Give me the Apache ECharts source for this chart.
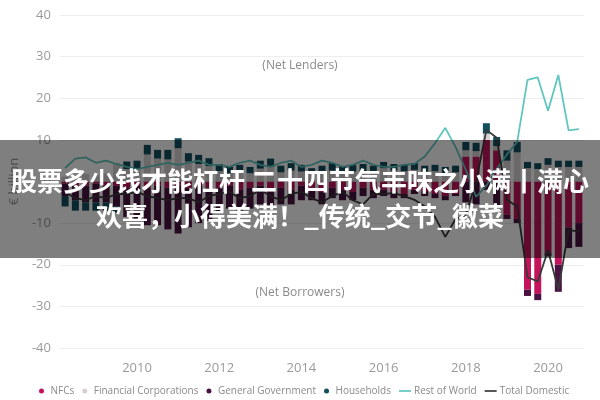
<!DOCTYPE html>
<html>
<head>
<meta charset="utf-8">
<script src="https://cdn.jsdelivr.net/npm/echarts@6/dist/echarts.min.js"></script>
<style>
html,body{margin:0;padding:0;background:#fff;}
#chart{width:600px;height:400px;}
</style>
</head>
<body>
<div id="chart"></div>
<script>
// Quarters 2008Q2 .. 2020Q4
const years = [2008,2009,2010,2011,2012,2013,2014,2015,2016,2017,2018,2019,2020];
const quarters = [];
years.forEach(y => { for (let q = 1; q <= 4; q++) { if (y === 2008 && q === 1) continue; quarters.push(y + 'Q' + q); } });

const nfcs = [
  -0.5, -1, -1,
  -0.5, -1, -1, -1.5,
  -1, -1.5, -1, -1.5,
  -1, -1.5, -1, -1.5,
  -1.5, -1, -2, -1.5,
  -1, -2, -1.5, -2,
  -1, -1.5, -2.5, -1.5,
  -2, -2.5, -1.5, -2,
  -2, -2.5, -3, -2,
  -2.5, -3, -3.5, -3,
  6, 6, 10, 7.5,
  -8, -9, -26, -27,
  -17, -20, -11, -10
];
const financialCorps = [
  1.2, 1.5, 1.8,
  1.5, 2, 4.5, 3,
  3, 6.5, 5.5, 5.3,
  8, 4.8, 4.2, 3.7,
  2.5, 2, 2.2, 2,
  3.1, 3.5, 2.2, 2.6,
  2.4, 1.8, 2.2, 2.6,
  2.1, 2.4, 2.5, 2.2,
  3.2, 2.6, 2.5, 2.8,
  2.4, 2.5, 2, 2.2,
  1.5, 1.3, 1.5, 1,
  5, 7, 3.2, 3,
  4, 3.5, 3.5, 3.5
];
const generalGov = [
  -3, -3.5, -4,
  -4.5, -4, -5, -7,
  -8, -9, -9.5, -10,
  -11.5, -9.5, -9, -8,
  -6, -5.5, -5, -5,
  -4.5, -4, -4, -3.5,
  -3.5, -3, -3, -2.5,
  -2.5, -2, -2, -2,
  -1.5, -1.5, -1, -1,
  -1, -1, -1, -0.5,
  -5, -5.5, -2, -6,
  -1, -1, -1.5, -1.5,
  -1, -6.5, -5, -5.7
];
const households = [
  -2.5, -2.5, -2,
  -2, -2, -1.5, 1.8,
  2, 2.3, 2.1, 2.3,
  2.4, 2, 2.2, 1.9,
  1.7, 1.6, 1.8, 1.5,
  1.9, 2, 1.6, 1.8,
  1.6, 1.4, 1.6, 1.8,
  1.5, 1.6, 1.7, 1.6,
  1.5, 1.6, 1.5, 1.6,
  1.4, 1.5, 1.5, 1.6,
  2, 2, 2.5, 2.2,
  2.5, 2.5, 1.5, 1.4,
  1.6, 1.5, 1.5, 1.5
];
const restOfWorld = [
  3.2, 5.5, 5.8,
  4.5, 5, 4.2, 3.5,
  3, 3.5, 4, 4.5,
  4, 4.5, 5, 4,
  4, 3.5, 4.5, 5,
  4, 3.5, 4.5, 5,
  3.5, 4, 5, 4.5,
  3.5, 4, 5, 4,
  3.5, 3.5, 4, 4.2,
  6, 9.2, 12.9, 8.3,
  2.8, -3.7, -1, 3,
  6.5, 9.5, 24.4, 25,
  17, 25.6, 12.3, 12.6
];
const totalDomestic = [
  -2.5, -4, -4.5,
  -3.5, -4, -3, -3,
  -2.5, -3.5, -4, -4.5,
  -4, -4, -5, -3.5,
  -3, -2.5, -4, -3.5,
  -2, -3.5, -4.5, -3,
  -2.5, -4, -5, -3.5,
  -2.5, -4.5, -5.5, -3,
  -3, -2.8, -3.5, -4.4,
  -6, -8.5, -13.3, -9,
  -8, 0, 12.4, 10.5,
  -4.4, -6, -23, -24,
  -16.5, -26, -11.7, -12
];
const yTicks = { min: -40, max: 40, step: 10 };
const titleLine1 = '股票多少钱才能杠杆 二十四节气丰味之小满丨满心';
const titleLine2 = '欢喜，小得美满！_传统_交节_徽菜';

const FONT = '"Open Sans", "Noto Sans", sans-serif';
const C = {
  nfc: '#C4125C', fin: '#D6D0D3', gov: '#4A1243', hh: '#124E5C',
  row: '#62C6C0', tot: '#3A3A3A'
};

const chart = echarts.init(document.getElementById('chart'), null, { renderer: 'canvas' });
const barCommon = { type: 'bar', stack: 'sectors', barCategoryGap: '32%' };
const linePath = 'path://M0,0 L14,0 L14,2 L0,2 Z';

chart.setOption({
  animation: false,
  grid: { left: 55, right: 16, top: 15, bottom: 52 },
  legend: {
    left: 34, top: 381,
    itemWidth: 12, itemHeight: 5, itemGap: 8,
    textStyle: { fontSize: 10, color: '#8a8a8a', fontFamily: FONT, padding: [0,0,0,-2] },
    data: [
      { name: 'NFCs', icon: 'circle' },
      { name: 'Financial Corporations', icon: 'circle' },
      { name: 'General Government', icon: 'circle' },
      { name: 'Households', icon: 'circle' },
      { name: 'Rest of World', icon: linePath },
      { name: 'Total Domestic', icon: linePath }
    ]
  },
  xAxis: {
    type: 'category',
    data: quarters,
    axisLine: { show: false },
    axisTick: { show: false },
    axisLabel: {
      color: '#9a9a9a', fontSize: 13, fontFamily: FONT, margin: 14,
      interval: (idx, val) => /Q1$/.test(val) && parseInt(val) % 2 === 0,
      formatter: v => v.slice(0, 4)
    }
  },
  yAxis: {
    type: 'value',
    min: yTicks.min, max: yTicks.max, interval: yTicks.step,
    name: '€ billion', nameLocation: 'middle', nameRotate: 90, nameGap: 36,
    nameTextStyle: { color: '#9a9a9a', fontSize: 13, fontFamily: FONT },
    axisLine: { show: false }, axisTick: { show: false },
    axisLabel: { color: '#9a9a9a', fontSize: 13, fontFamily: FONT, margin: 9 },
    splitLine: { lineStyle: { color: '#eeeeee', width: 1 } }
  },
  series: [
    Object.assign({ name: 'NFCs', data: nfcs, itemStyle: { color: C.nfc } }, barCommon),
    Object.assign({ name: 'Financial Corporations', data: financialCorps, itemStyle: { color: C.fin } }, barCommon),
    Object.assign({ name: 'General Government', data: generalGov, itemStyle: { color: C.gov } }, barCommon),
    Object.assign({ name: 'Households', data: households, itemStyle: { color: C.hh } }, barCommon),
    { name: 'Rest of World', type: 'line', data: restOfWorld, showSymbol: false, symbol: 'none',
      itemStyle: { color: C.row }, lineStyle: { color: C.row, width: 1.8 }, z: 5 },
    { name: 'Total Domestic', type: 'line', data: totalDomestic, showSymbol: false, symbol: 'none',
      itemStyle: { color: C.tot }, lineStyle: { color: C.tot, width: 1.8 }, z: 5 }
  ],
  graphic: [
    { type: 'text', left: 'center', top: 60, z: 10,
      style: { text: '(Net Lenders)', fill: '#8a8a8a', font: '12px ' + FONT, textAlign: 'center' } },
    { type: 'text', left: 'center', top: 287, z: 10,
      style: { text: '(Net Borrowers)', fill: '#8a8a8a', font: '12px ' + FONT, textAlign: 'center' } },
    { type: 'rect', left: 0, top: 140, z: 100,
      shape: { width: 600, height: 118 },
      style: { fill: 'rgba(0,0,0,0.5)' } },
    { type: 'text', left: 'center', top: 168, z: 101,
      style: { text: titleLine1, fill: '#ffffff', font: 'bold 26px "Noto Sans CJK SC", sans-serif' } },
    { type: 'text', left: 'center', top: 203, z: 101,
      style: { text: titleLine2, fill: '#ffffff', font: 'bold 26px "Noto Sans CJK SC", sans-serif' } }
  ]
});
</script>
</body>
</html>
